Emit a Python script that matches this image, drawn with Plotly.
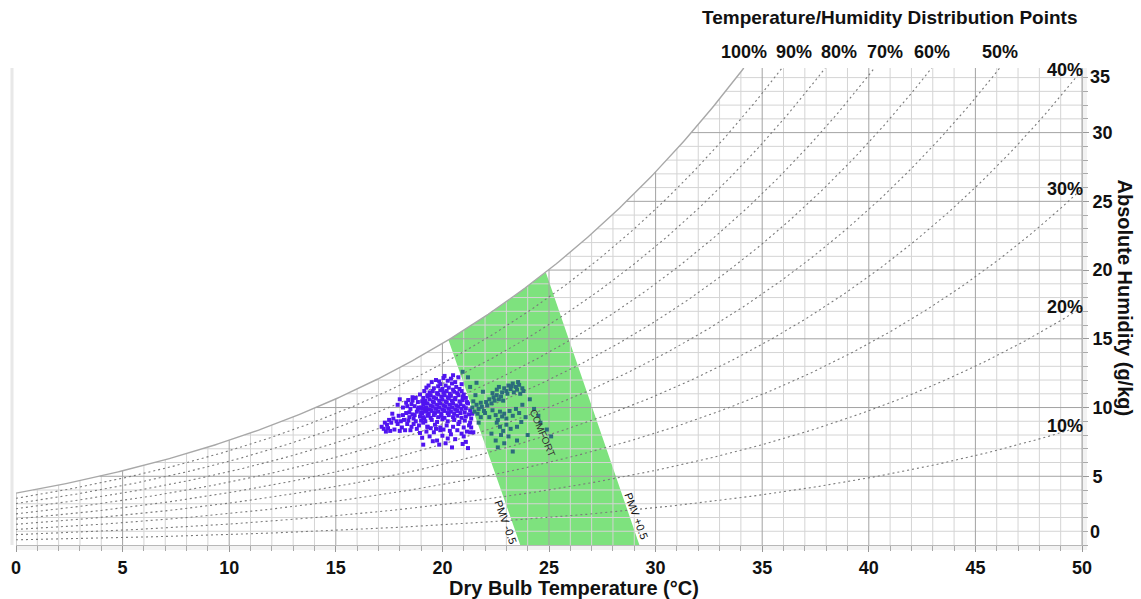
import numpy as np
import plotly.graph_objects as go

# ---------------- data ----------------
x_tick_values = [0, 5, 10, 15, 20, 25, 30, 35, 40, 45, 50]
y_tick_values = [5, 10, 15, 20, 25, 30]
y_end_labels = ["0", "35"]
rh_levels = [10, 20, 30, 40, 50, 60, 70, 80, 90, 100]

# comfort zone edges: temperature at 0 g/kg and where each PMV line meets saturation
pmv_names = ["PMV -0.5", "PMV +0.5"]
pmv_bottom_temps = [23.65, 29.24]
pmv_top_temps = [20.28, 24.85]

outside_points = [
    (17.15, 8.6), (17.25, 8.45), (17.4, 8.75), (17.45, 8.5), (17.6, 8.9), (17.7, 9.2), (17.75, 8.4),
    (17.9, 8.8), (17.95, 9.4), (17.9, 10.2), (18.05, 9.0), (18.1, 8.55), (18.2, 9.1), (18.3, 9.6),
    (18.35, 8.8), (18.45, 9.3), (18.5, 9.9), (18.55, 8.6), (18.6, 9.5), (18.7, 10.1), (18.75, 9.0),
    (18.8, 9.7), (18.85, 10.4), (18.9, 8.7), (18.95, 9.35), (19.0, 10.0), (19.05, 9.6), (19.1, 10.7),
    (19.1, 8.9), (19.15, 9.2), (19.2, 10.3), (19.25, 9.8), (19.3, 8.6), (19.3, 10.9), (19.35, 9.5),
    (18.7, 9.45), (18.9, 10.0), (19.0, 9.05), (19.2, 9.95), (18.6, 10.5), (18.6, 10.75), (18.4, 10.55),
    (18.3, 10.35), (18.0, 10.6),
    (17.3, 8.9), (17.55, 8.3), (17.85, 9.0), (18.0, 8.3), (18.15, 9.45), (18.25, 8.35), (18.4, 9.05),
    (18.5, 8.35), (18.65, 8.8), (18.8, 8.45), (18.95, 8.15), (19.05, 7.8), (19.25, 8.25), (19.45, 8.5),
    (19.55, 7.55), (19.7, 8.45), (19.85, 7.3), (20.05, 8.4), (20.4, 8.05), (20.7, 8.35), (20.95, 7.35),
    (21.15, 8.25), (21.3, 8.2), (18.15, 10.0), (18.45, 9.65), (18.55, 10.25), (18.75, 10.7),
    (18.95, 10.95), (19.15, 11.2), (19.25, 11.45), (19.05, 10.45), (18.85, 9.85), (18.65, 9.2),
    (18.35, 10.1), (17.65, 9.55), (17.5, 9.1), (17.35, 8.25), (21.4, 9.55), (21.35, 8.55), (21.45, 8.2),
    (19.6, 11.4), (19.8, 11.55), (20.0, 11.35), (20.15, 11.6), (20.3, 11.45), (20.5, 11.3), (20.65, 11.5),
    (20.8, 11.35), (19.9, 11.7), (20.45, 11.75),
    (19.4, 11.1), (19.55, 11.2), (19.75, 11.05), (19.9, 11.25), (20.05, 11.1), (20.2, 11.2), (20.35, 11.0),
    (20.55, 11.15), (20.7, 11.05), (20.9, 11.2), (21.0, 10.95),
    (19.3, 10.8), (19.45, 10.9), (19.6, 10.75), (19.8, 10.95), (19.95, 10.8), (20.1, 10.9), (20.25, 10.75),
    (20.4, 10.85), (20.6, 10.7), (20.75, 10.9), (20.95, 10.8), (21.1, 10.7),
    (19.2, 10.5), (19.4, 10.6), (19.55, 10.45), (19.7, 10.65), (19.85, 10.5), (20.0, 10.6), (20.15, 10.45),
    (20.3, 10.65), (20.45, 10.5), (20.6, 10.6), (20.8, 10.45), (20.95, 10.55), (21.15, 10.4),
    (19.1, 10.2), (19.3, 10.3), (19.45, 10.15), (19.6, 10.35), (19.75, 10.2), (19.9, 10.3), (20.05, 10.15),
    (20.2, 10.35), (20.35, 10.2), (20.5, 10.3), (20.65, 10.15), (20.85, 10.25), (21.0, 10.1), (21.2, 10.3),
    (19.05, 9.9), (19.25, 10.0), (19.4, 9.85), (19.55, 10.05), (19.7, 9.9), (19.85, 10.0), (20.0, 9.85),
    (20.15, 10.05), (20.3, 9.9), (20.45, 10.0), (20.6, 9.85), (20.75, 10.05), (20.9, 9.9), (21.1, 9.95),
    (21.3, 9.8),
    (19.0, 9.6), (19.2, 9.7), (19.35, 9.55), (19.5, 9.75), (19.65, 9.6), (19.8, 9.7), (19.95, 9.55),
    (20.1, 9.75), (20.25, 9.6), (20.4, 9.7), (20.55, 9.55), (20.7, 9.75), (20.85, 9.6), (21.05, 9.65),
    (21.25, 9.5),
    (19.1, 9.3), (19.3, 9.4), (19.45, 9.25), (19.6, 9.45), (19.8, 9.3), (19.95, 9.4), (20.1, 9.25),
    (20.3, 9.45), (20.5, 9.3), (20.7, 9.4), (20.9, 9.25), (21.1, 9.35), (21.35, 9.2),
    (19.2, 9.0), (19.5, 9.1), (19.75, 8.95), (20.0, 9.15), (20.25, 9.0), (20.55, 9.1), (20.8, 8.95),
    (21.05, 9.05), (21.3, 8.9),
    (19.3, 8.6), (19.65, 8.75), (19.9, 8.55), (20.2, 8.7), (20.5, 8.6), (20.75, 8.8), (21.0, 8.55),
    (21.25, 8.7),
    (19.1, 7.3), (19.4, 7.9), (19.6, 8.2), (19.75, 7.6), (20.0, 7.95), (20.15, 7.4), (20.35, 8.3),
    (20.45, 7.1), (20.6, 7.7), (20.9, 8.1), (21.1, 7.5), (21.2, 7.05), (21.0, 7.9), (20.25, 7.75),
    (19.9, 8.35),
    (19.5, 11.85), (19.7, 12.0), (19.85, 11.9), (20.05, 12.15), (20.25, 11.95), (20.4, 12.1), (20.6, 11.85),
    (20.75, 12.2), (20.5, 12.35), (20.9, 11.7), (19.35, 11.6), (20.1, 12.3),
]

comfort_points = [
    (22.9, 11.4), (23.0, 11.2), (23.1, 11.6), (23.2, 11.35), (23.3, 11.75), (23.35, 11.1), (23.45, 11.5),
    (23.5, 11.3), (23.6, 11.65), (23.65, 11.0), (23.75, 11.4), (23.8, 11.2), (23.55, 11.85), (23.25, 11.55),
    (23.05, 11.0), (22.8, 11.1), (22.65, 11.5), (22.55, 11.3),
    (21.4, 10.0), (21.5, 9.7), (21.6, 10.2), (21.7, 9.9), (21.8, 10.35), (21.85, 10.05), (21.95, 9.75),
    (22.05, 10.4), (22.1, 10.15), (22.2, 10.6), (22.3, 10.3), (22.4, 10.75), (22.45, 10.5), (22.55, 10.9),
    (22.65, 10.6), (22.75, 10.8), (22.85, 10.5), (21.45, 10.45), (21.65, 9.55), (21.9, 11.15),
    (22.35, 11.05), (21.55, 10.9),
    (22.0, 9.6), (22.2, 9.3), (22.35, 9.8), (22.5, 9.45), (22.6, 9.1), (22.7, 9.7), (22.8, 9.35),
    (22.9, 9.55), (23.0, 9.2), (23.15, 9.75), (23.3, 9.4), (23.45, 9.9), (23.6, 9.6), (23.75, 10.2),
    (23.9, 9.3), (22.55, 8.9), (22.7, 8.6), (22.85, 8.3), (23.0, 8.75), (23.2, 8.45), (23.5, 8.6),
    (23.7, 8.95), (21.8, 9.3), (21.7, 8.9),
    (22.5, 7.6), (22.6, 7.1), (22.75, 8.0), (23.3, 6.8), (23.5, 7.6), (22.9, 7.4), (23.1, 7.9), (22.3, 8.1),
    (24.1, 10.6), (24.3, 9.9), (24.5, 9.4), (24.9, 8.4), (25.1, 7.9), (24.6, 8.9), (24.0, 8.0),
    (20.95, 12.6), (21.2, 12.2), (21.3, 11.5), (21.6, 11.8),
]

# ---------------- helpers ----------------
X_MIN, X_MAX = 0.0, 50.0
Y_MAX = 34.7
P_ATM = 101325.0


def w_sat(t):
    t = np.asarray(t, dtype=float)
    ps = 610.94 * np.exp(17.625 * t / (t + 243.04))
    return 622.0 * ps / (P_ATM - ps)


def t_for_w(w, rh=100):
    lo, hi = -20.0, 90.0
    for _ in range(80):
        mid = 0.5 * (lo + hi)
        if rh / 100.0 * w_sat(mid) < w:
            lo = mid
        else:
            hi = mid
    return 0.5 * (lo + hi)


FONT = "Liberation Sans, Arial, sans-serif"
fig = go.Figure()

# ---- comfort polygon ----
t_bl, t_br = pmv_bottom_temps[0], pmv_bottom_temps[1]
t_tl, t_tr = pmv_top_temps[0], pmv_top_temps[1]
arc_t = np.linspace(t_tr, t_tl, 40)
poly_x = [t_bl, t_br] + list(arc_t) + [t_bl]
poly_y = [0, 0] + list(w_sat(arc_t)) + [0]
fig.add_trace(go.Scatter(x=poly_x, y=poly_y, mode="lines", fill="toself",
                         fillcolor="#7EE27E", line=dict(width=0, color="#7EE27E"),
                         hoverinfo="skip", showlegend=False))

# ---- grid clipped by saturation curve ----
gx = {"minor": [], "major": []}
gy = {"minor": [], "major": []}
for t in range(int(X_MIN), int(X_MAX) + 1):
    top = min(float(w_sat(t)), Y_MAX)
    k = "major" if t % 5 == 0 else "minor"
    gx[k] += [t, t, None]
    gy[k] += [0, top, None]
for w in range(1, int(Y_MAX) + 1):
    start = max(X_MIN, t_for_w(w)) if w > w_sat(X_MIN) else X_MIN
    k = "major" if w % 5 == 0 else "minor"
    gx[k] += [start, X_MAX, None]
    gy[k] += [w, w, None]
fig.add_trace(go.Scatter(x=gx["minor"], y=gy["minor"], mode="lines",
                         line=dict(color="#d4d4d4", width=1), hoverinfo="skip", showlegend=False))
fig.add_trace(go.Scatter(x=gx["major"], y=gy["major"], mode="lines",
                         line=dict(color="#a3a3a3", width=1), hoverinfo="skip", showlegend=False))

# ---- RH curves ----
annotations = []
top_labels = []
for rh in rh_levels:
    t_end = min(X_MAX, t_for_w(Y_MAX, rh))
    ts = np.linspace(X_MIN, t_end, 300)
    ws = rh / 100.0 * w_sat(ts)
    if rh == 100:
        line = dict(color="#a8a8a8", width=1.4)
    else:
        line = dict(color="#7a7a7a", width=1.1, dash="2px,3px")
    fig.add_trace(go.Scatter(x=ts, y=ws, mode="lines", line=line,
                             hoverinfo="skip", showlegend=False))
    if t_end < X_MAX - 1e-6:
        top_labels.append((rh, t_end))
    else:
        annotations.append(dict(x=X_MAX, y=rh / 100.0 * float(w_sat(X_MAX)), xref="x", yref="y",
                                text=f"{rh}%", showarrow=False, xanchor="right", yanchor="middle",
                                xshift=3, font=dict(family=FONT, size=18, color="#111", weight="bold")))

# top labels with simple overlap avoidance (pixel space)
px_per_deg = 1066.0 / (X_MAX - X_MIN)
prev_right = -1e9
for rh, t_c in sorted(top_labels, key=lambda a: a[1]):
    text = f"{rh}%"
    width = 9.8 * len(text) + 9
    cx = (t_c - X_MIN) * px_per_deg
    cx = max(cx, prev_right + 7 + width / 2)
    prev_right = cx + width / 2
    annotations.append(dict(x=X_MIN + cx / px_per_deg, y=1, xref="x", yref="paper", text=text,
                            showarrow=False, xanchor="center", yanchor="bottom", yshift=4,
                            font=dict(family=FONT, size=18, color="#111", weight="bold")))

# ---- points ----
fig.add_trace(go.Scatter(x=[p[0] for p in outside_points], y=[p[1] for p in outside_points],
                         mode="markers", marker=dict(symbol="square", size=4, color="#5014F0"),
                         showlegend=False))
fig.add_trace(go.Scatter(x=[p[0] for p in comfort_points], y=[p[1] for p in comfort_points],
                         mode="markers", marker=dict(symbol="square", size=4, color="#2C6C7C"),
                         showlegend=False))

# ---- PMV / comfort labels ----
def pmv_t(i, w):
    b, t = pmv_bottom_temps[i], pmv_top_temps[i]
    return b + (t - b) * w / float(w_sat(t))

annotations.append(dict(x=pmv_t(0, 1.67) - 0.3, y=1.67, text=pmv_names[0], showarrow=False,
                        textangle=70, font=dict(family=FONT, size=11, color="#111")))
annotations.append(dict(x=pmv_t(1, 2.1) + 0.32, y=2.1, text=pmv_names[1], showarrow=False,
                        textangle=70, font=dict(family=FONT, size=11, color="#111")))
annotations.append(dict(x=24.67, y=8.15, text="COMFORT", showarrow=False, textangle=67,
                        font=dict(family=FONT, size=10, color="#333")))

# ---- axis titles and end tick labels ----
annotations.append(dict(x=(574 - 16) / 1066, y=0, xref="paper", yref="paper",
                        text="Dry Bulb Temperature (°C)",
                        showarrow=False, xanchor="center", yanchor="middle", yshift=-43,
                        font=dict(family=FONT, size=20, color="#111", weight="bold")))
annotations.append(dict(x=1, y=0.5, xref="paper", yref="paper", text="Absolute Humidity (g/kg)",
                        showarrow=False, xanchor="center", yanchor="middle", xshift=43, yshift=9,
                        textangle=90, font=dict(family=FONT, size=20, color="#111", weight="bold")))
annotations.append(dict(x=0.819, y=1, xref="paper", yref="paper",
                        text="Temperature/Humidity Distribution Points", showarrow=False,
                        xanchor="center", yanchor="middle", yshift=51,
                        font=dict(family=FONT, size=19, color="#111", weight="bold")))
annotations.append(dict(x=1, y=0, xref="paper", yref="paper", text=y_end_labels[0], showarrow=False,
                        xanchor="left", yanchor="middle", xshift=6, yshift=13,
                        font=dict(family=FONT, size=18, color="#111", weight="bold")))
annotations.append(dict(x=1, y=1, xref="paper", yref="paper", text=y_end_labels[1], showarrow=False,
                        xanchor="left", yanchor="middle", xshift=6, yshift=-9,
                        font=dict(family=FONT, size=18, color="#111", weight="bold")))

shapes = [
    dict(type="line", xref="paper", yref="paper", x0=-4 / 1066, x1=-4 / 1066, y0=0, y1=1,
         line=dict(color="#e8e8e8", width=3), layer="below"),
    dict(type="rect", xref="paper", yref="paper", x0=0, x1=1, y0=-5 / 477, y1=0,
         fillcolor="#f2f2f2", line=dict(width=0), layer="below"),
    dict(type="rect", xref="paper", yref="paper", x0=1, x1=1 + 5 / 1066, y0=-5 / 477, y1=1,
         fillcolor="#f2f2f2", line=dict(width=0), layer="below"),
]

fig.update_layout(
    width=1141, height=599,
    margin=dict(l=16, r=59, t=68, b=54),
    paper_bgcolor="white", plot_bgcolor="white",
    annotations=annotations, shapes=shapes,
    xaxis=dict(range=[X_MIN, X_MAX], tickvals=x_tick_values, showgrid=False, zeroline=False,
               showline=True, linecolor="#b8b8b8", linewidth=1,
               ticks="outside", ticklen=6, tickcolor="#999",
               minor=dict(dtick=1, tick0=0, ticks="outside", ticklen=5, tickcolor="#aaa", showgrid=False),
               tickfont=dict(family=FONT, size=18, color="#111", weight="bold")),
    yaxis=dict(range=[0, Y_MAX], side="right", tickvals=y_tick_values, showgrid=False, zeroline=False,
               showline=True, linecolor="#b8b8b8", linewidth=1,
               ticks="outside", ticklen=6, tickcolor="#999",
               minor=dict(dtick=1, tick0=0, ticks="outside", ticklen=5, tickcolor="#aaa", showgrid=False),
               tickfont=dict(family=FONT, size=18, color="#111", weight="bold")),
)

fig.write_html("out.html")
